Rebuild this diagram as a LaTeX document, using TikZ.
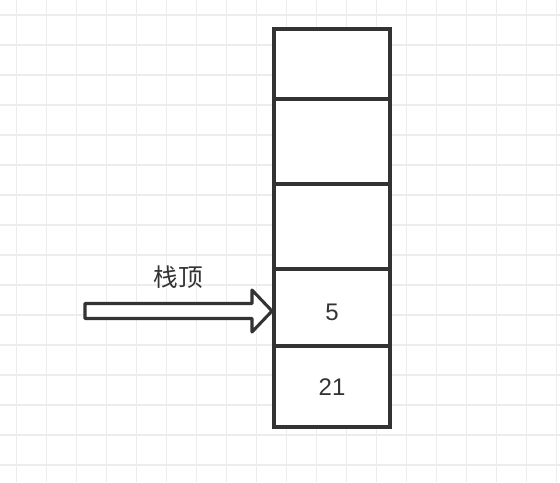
\documentclass[tikz,border=0pt]{standalone}
\usepackage{fontspec}
\setmainfont{Liberation Sans}
\newfontfamily\cjk{Noto Sans CJK SC}
\usetikzlibrary{calc}
\definecolor{gridc}{HTML}{EDEDED}
\definecolor{ink}{HTML}{333333}
\begin{document}
\begin{tikzpicture}[x=0.75pt,y=-0.75pt,
  gridline/.style={draw=gridc,line width=1.1pt},
  cell/.style={draw=ink,fill=white,line width=2.3pt,minimum width=116*0.75pt,inner sep=0pt,outer sep=0pt},
  thickcell/.style={cell,line width=3pt},
  numtext/.style={font=\fontsize{18}{20}\selectfont,text=ink},
  cjktext/.style={font=\cjk\fontsize{18.5}{20}\selectfont,text=ink},
  blockarrow/.style={draw=ink,fill=white,line width=2.3pt,line join=round}]
\useasboundingbox (0,0) rectangle (560,482);
\fill[white] (0,0) rectangle (560,482);
\foreach \k in {0,...,18} {
  \draw[gridline] (16.7+30*\k,0) -- (16.7+30*\k,482);
}
\foreach \k in {0,...,15} {
  \draw[gridline] (0,15+30*\k) -- (560,15+30*\k);
}
% stack cells
\node[cell,minimum height=70*0.75pt] (c1) at (332,64) {};
\node[thickcell,minimum height=85*0.75pt] (c2) at (332,141.5) {};
\node[thickcell,minimum height=85*0.75pt] (c3) at (332,226.5) {};
\node[cell,minimum height=77*0.75pt] (c4) at (332,307.5) {};
\node[cell,minimum height=81*0.75pt] (c5) at (332,386.5) {};
\node[numtext] (v4) at ($(c4.center)+(0,4.5)$) {5};
\node[numtext] (v5) at ($(c5.center)+(0,0.5)$) {21};
% arrow
\coordinate (tail) at (85,311);
\coordinate (tip) at (272,311);
\draw[blockarrow] ($(tail)+(0,-7.5)$) -- ($(tip)+(-20,-7.5)$) -- ($(tip)+(-20,-21)$)
  -- (tip) -- ($(tip)+(-20,21)$) -- ($(tip)+(-20,7.5)$) -- ($(tail)+(0,7.5)$) -- cycle;
\node[cjktext] (lbl) at (178,277) {栈顶};
\end{tikzpicture}
\end{document}
